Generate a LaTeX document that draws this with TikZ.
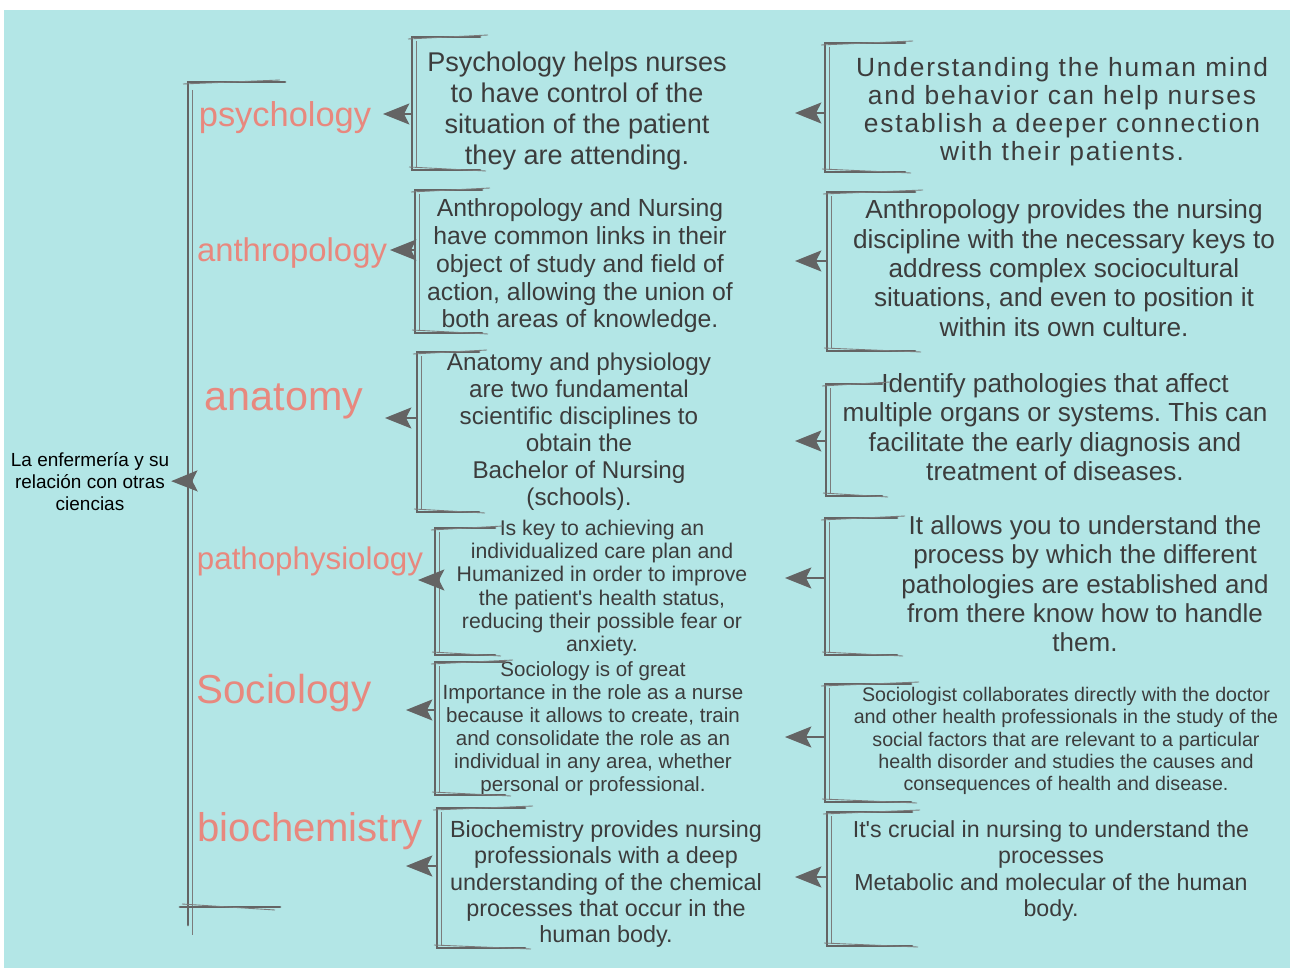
\documentclass[tikz,border=0pt]{standalone}
\usepackage{fontspec}
\setmainfont{Liberation Sans}
\usetikzlibrary{arrows.meta}
\frenchspacing

\definecolor{bgcyan}{RGB}{179,230,230}
\definecolor{inkgray}{RGB}{100,100,100}
\definecolor{txtgray}{RGB}{60,60,60}
\definecolor{salmon}{RGB}{232,136,126}

\tikzstyle{subject}=[text=salmon,inner sep=0pt]
\tikzstyle{note}=[text=txtgray,align=center,inner sep=0pt]
\tikzstyle{brk}=[draw=inkgray,line width=1.6pt,line cap=round]
\tikzstyle{brkthin}=[draw=inkgray!85,line width=0.5pt]
\tikzstyle{sketcharrow}=[draw=inkgray,line width=0.7pt,-{Stealth[length=15pt,width=12pt,inset=3pt]}]

\begin{document}
\begin{tikzpicture}[x=0.02cm,y=-0.02cm]
    \useasboundingbox (0,0) rectangle (1290,969);
    \fill[bgcyan] (4,10) rectangle (1290,968);

    % root and the big bracket
    \node[align=center,inner sep=1pt,font=\fontsize{10.8}{12.5}\selectfont] (root) at (90,482)
        {La enfermería y su\\relación con otras\\ciencias};
    \draw[brk] (285,82) -- (188,82) -- (188,925);
    \draw[brkthin] (192,90) -- (192,935);
    \draw[brkthin] (183,84) -- (280,80);
    \draw[brk] (180,907) -- (280,907);
    \draw[brkthin] (182,904) -- (275,910);
    \coordinate (hub) at (188,481);
    \draw[sketcharrow] (hub) -- (root);

    % subjects
    \node[subject,font=\fontsize{19.6}{22}\selectfont] (psy)   at (285,118) {psychology};
    \node[subject,font=\fontsize{18.7}{22}\selectfont] (anthr) at (292,253) {anthropology};
    \node[subject,font=\fontsize{23.5}{26}\selectfont] (anat)  at (284,401) {anatomy};
    \node[subject,font=\fontsize{17.8}{20}\selectfont] (patho) at (310,561) {pathophysiology};
    \node[subject,font=\fontsize{23}{26}\selectfont]   (socio) at (284,693) {Sociology};
    \node[subject,font=\fontsize{22.8}{26}\selectfont] (bioch) at (310,831) {biochemistry};

    % middle notes
    \node[note,font=\fontsize{15.4}{17.6}\selectfont] (mpsy) at (577,111)
        {Psychology helps nurses\\to have control of the\\situation of the patient\\they are attending.};
    \node[note,font=\fontsize{14.1}{15.8}\selectfont] (manthr) at (580,266)
        {Anthropology and Nursing\\have common links in their\\object of study and field of\\action, allowing the union of\\both areas of knowledge.};
    \node[note,font=\fontsize{13.8}{15.4}\selectfont] (manat) at (579,432)
        {Anatomy and physiology\\are two fundamental\\scientific disciplines to\\obtain the\\Bachelor of Nursing\\(schools).};
    \node[note,font=\fontsize{12.1}{13.1}\selectfont] (mpatho) at (602,588)
        {Is key to achieving an\\individualized care plan and\\Humanized in order to improve\\the patient\textquotesingle s health status,\\reducing their possible fear or\\anxiety.};
    \node[note,font=\fontsize{11.7}{13.1}\selectfont] (msocio) at (593,729)
        {Sociology is of great\\Importance in the role as a nurse\\because it allows to create, train\\and consolidate the role as an\\individual in any area, whether\\personal or professional.};
    \node[note,font=\fontsize{13.3}{15}\selectfont] (mbioch) at (606,884)
        {Biochemistry provides nursing\\professionals with a deep\\understanding of the chemical\\processes that occur in the\\human body.};

    % right notes
    \node[note,font=\fontsize{15}{15.9}\selectfont\addfontfeatures{LetterSpace=7}] (rpsy) at (1062,112)
        {Understanding the human mind\\and behavior can help nurses\\establish a deeper connection\\with their patients.};
    \node[note,font=\fontsize{14.9}{16.7}\selectfont] (ranthr) at (1064,268)
        {Anthropology provides the nursing\\discipline with the necessary keys to\\address complex sociocultural\\situations, and even to position it\\within its own culture.};
    \node[note,font=\fontsize{14.9}{16.7}\selectfont] (ranat) at (1055,427)
        {Identify pathologies that affect\\multiple organs or systems. This can\\facilitate the early diagnosis and\\treatment of diseases.};
    \node[note,font=\fontsize{14.8}{16.7}\selectfont] (rpatho) at (1085,584)
        {It allows you to understand the\\process by which the different\\pathologies are established and\\from there know how to handle\\them.};
    \node[note,font=\fontsize{11.2}{12.7}\selectfont] (rsocio) at (1066,741)
        {Sociologist collaborates directly with the doctor\\and other health professionals in the study of the\\social factors that are relevant to a particular\\health disorder and studies the causes and\\consequences of health and disease.};
    \node[note,font=\fontsize{13.2}{15}\selectfont] (rbioch) at (1051,871)
        {It\textquotesingle s crucial in nursing to understand the\\processes\\Metabolic and molecular of the human\\body.};

    % brackets with their arrows: name/x/top/bottom/arrow y/tip x/tick length
    \foreach \nm/\bx/\tp/\bt/\ay/\tx/\ln in {bm1/412/37/170/114/383/68,bm2/415/190/333/250/390/67,
        bm3/417/352/512/418/385/62,bm4/435/528/655/580/418/60,bm5/435/662/795/710/406/70,
        bm6/437/808/948/866/406/88,br1/825/43/172/113/795/80,br2/827/192/351/261/795/88,
        br3/826/384/496/441/795/56,br4/825/518/655/578/785/72,br5/825/684/802/737/785/86,
        br6/827/812/946/877/795/85}
    {
        \draw[brk] (\bx+\ln,\tp) -- (\bx,\tp) -- (\bx,\bt) -- (\bx+\ln,\bt);
        \draw[brkthin] (\bx-4,\tp+2) -- (\bx+\ln+8,\tp-2);
        \draw[brkthin] (\bx+4,\tp+4) -- (\bx+4,\bt-3);
        \draw[brkthin] (\bx-3,\bt-3) -- (\bx+\ln+6,\bt+1);
        \coordinate (\nm) at (\bx,\ay);
        \coordinate (\nm-tip) at (\tx,\ay);
        \draw[sketcharrow] (\nm) -- (\nm-tip);
    }
\end{tikzpicture}
\end{document}
